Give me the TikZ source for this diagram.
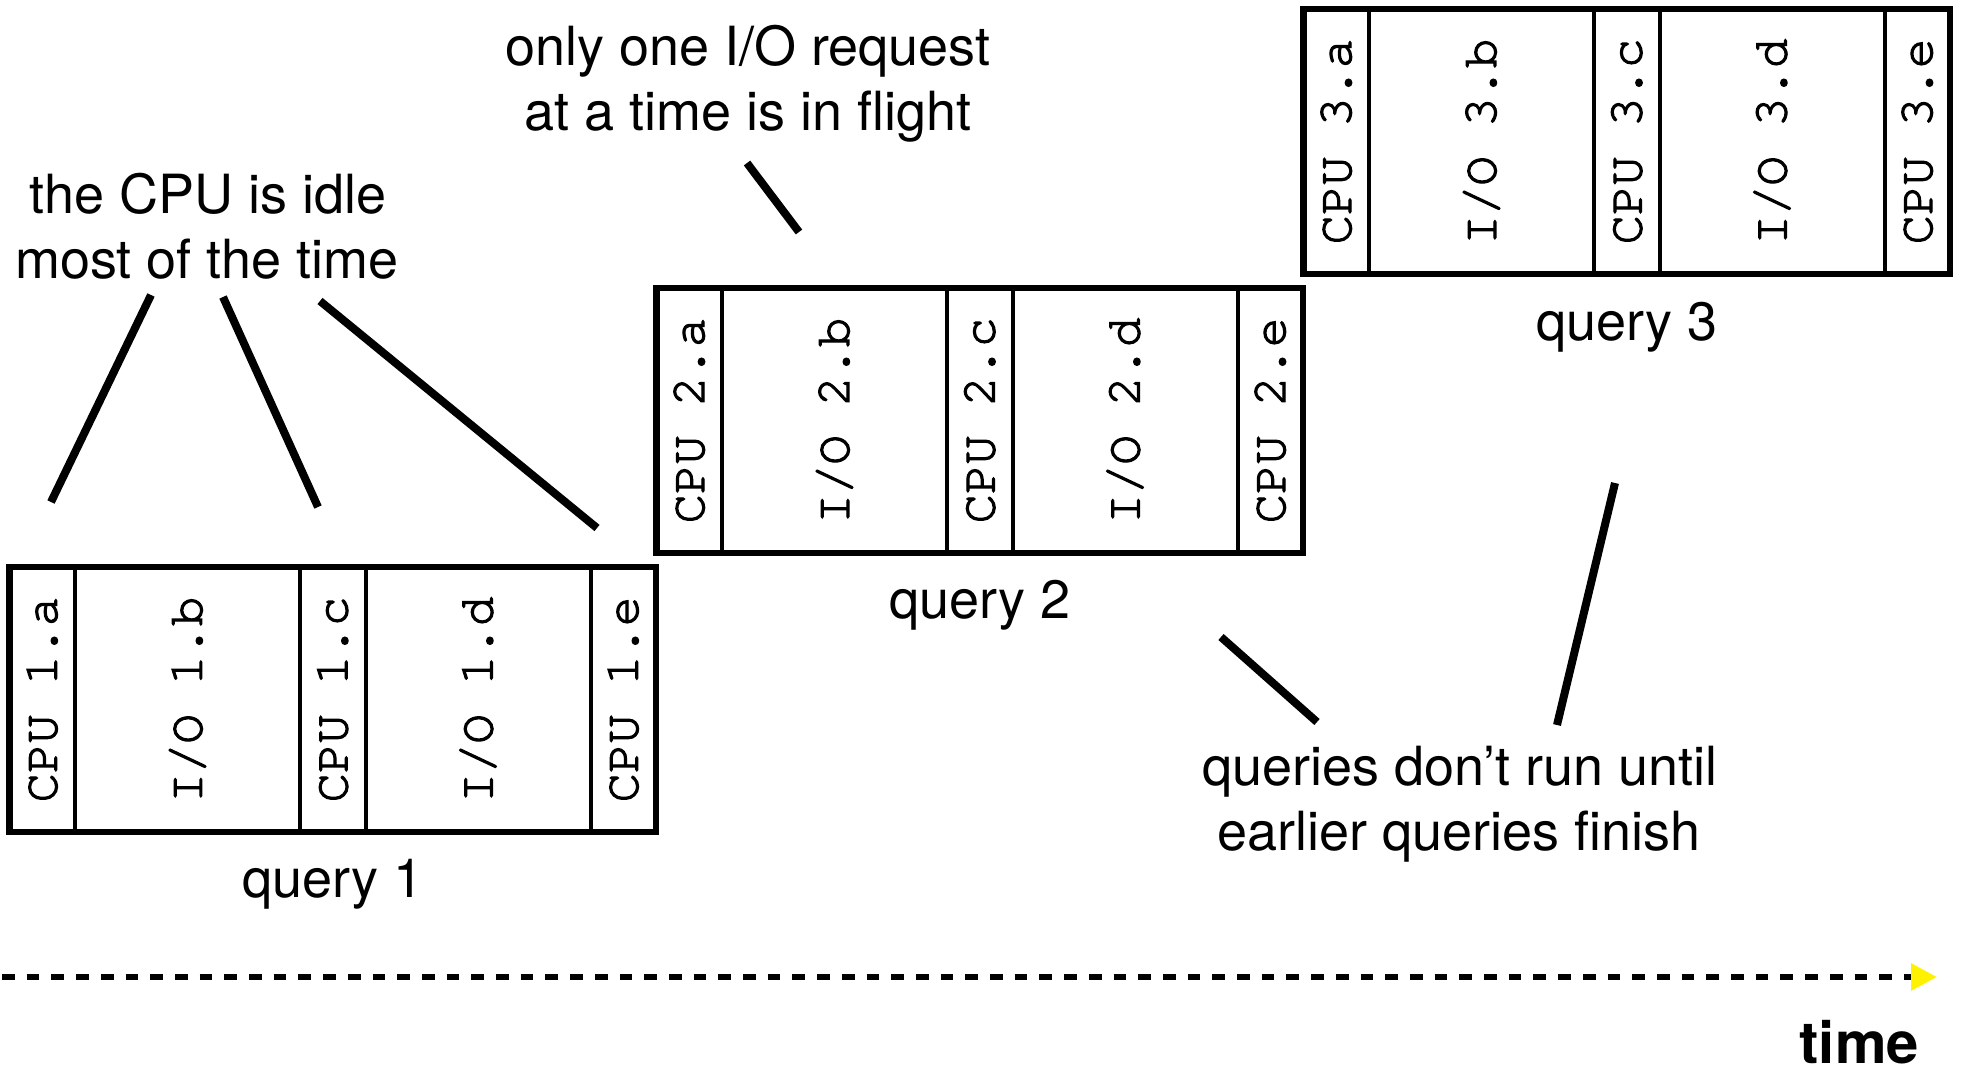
\documentclass[tikz,border=0pt]{standalone}
\usepackage{fontspec}
\setmainfont{TeX Gyre Heros}
\newfontfamily\cursorfont[FakeBold=2.5]{TeX Gyre Cursor}
\usetikzlibrary{arrows.meta}
\tikzset{
  cell/.style={draw, line width=4pt, minimum height=265pt, inner sep=0pt, outer sep=0pt,
    anchor=north west, font=\cursorfont\fontsize{49}{49}\selectfont},
  cpucell/.style={cell, minimum width=65.5pt},
  iocell/.style={cell, minimum width=225pt},
  frame/.style={line width=6.5pt},
  note/.style={font=\fontsize{54}{65}\selectfont, anchor=base, inner sep=0pt},
  leader/.style={line width=8pt},
  timeline/.style={line width=6pt, dash pattern=on 12.7pt off 12pt,
    -{Triangle[length=26pt,width=26pt,color=yellow,fill=yellow]}},
}
\newcommand{\qbox}[3]{%
  \node[cpucell] (q#1a) at (#2,#3) {\rotatebox{90}{CPU #1.a}};
  \node[iocell]  (q#1b) at (q#1a.north east) {\rotatebox{90}{I/O #1.b}};
  \node[cpucell] (q#1c) at (q#1b.north east) {\rotatebox{90}{CPU #1.c}};
  \node[iocell]  (q#1d) at (q#1c.north east) {\rotatebox{90}{I/O #1.d}};
  \node[cpucell] (q#1e) at (q#1d.north east) {\rotatebox{90}{CPU #1.e}};
  \draw[frame] (q#1a.north west) rectangle (q#1e.south east);
}
\begin{document}
\begin{tikzpicture}[x=1pt, y=-1pt]
\useasboundingbox (0,0) rectangle (1963,1072);

% query boxes
\qbox{1}{9.5}{567}
\qbox{2}{656.5}{288}
\qbox{3}{1303.5}{9}

\node[note] (ql1) at (333,897) {query 1};
\node[note] (ql2) at (980,618) {query 2};
\node[note] (ql3) at (1627,340) {query 3};

% annotations
\node[note] (idle1) at (208,213) {the CPU is idle};
\node[note] (idle2) at (207,278) {most of the time};
\node[note] (one1) at (748,65) {only one I/O request};
\node[note] (one2) at (748,130) {at a time is in flight};
\node[note] (run1) at (1460,785) {queries don’t run until};
\node[note] (run2) at (1459,850) {earlier queries finish};

% leader lines
\coordinate (l1a) at (151,295); \coordinate (l1b) at (51,502);
\coordinate (l2a) at (223,297); \coordinate (l2b) at (318,507);
\coordinate (l3a) at (320,301); \coordinate (l3b) at (597,528);
\coordinate (l4a) at (747,163); \coordinate (l4b) at (799,232);
\coordinate (l5a) at (1221,637); \coordinate (l5b) at (1317,722);
\coordinate (l6a) at (1615,483); \coordinate (l6b) at (1557,725);
\draw[leader] (l1a) -- (l1b);
\draw[leader] (l2a) -- (l2b);
\draw[leader] (l3a) -- (l3b);
\draw[leader] (l4a) -- (l4b);
\draw[leader] (l5a) -- (l5b);
\draw[leader] (l6a) -- (l6b);

% time axis
\coordinate (tstart) at (2,977);
\coordinate (tend) at (1937,977);
\draw[timeline] (tstart) -- (tend);
\node[anchor=base east, inner sep=0pt, font=\bfseries\fontsize{58}{58}\selectfont] (time) at (1919,1063) {time};
\end{tikzpicture}
\end{document}
